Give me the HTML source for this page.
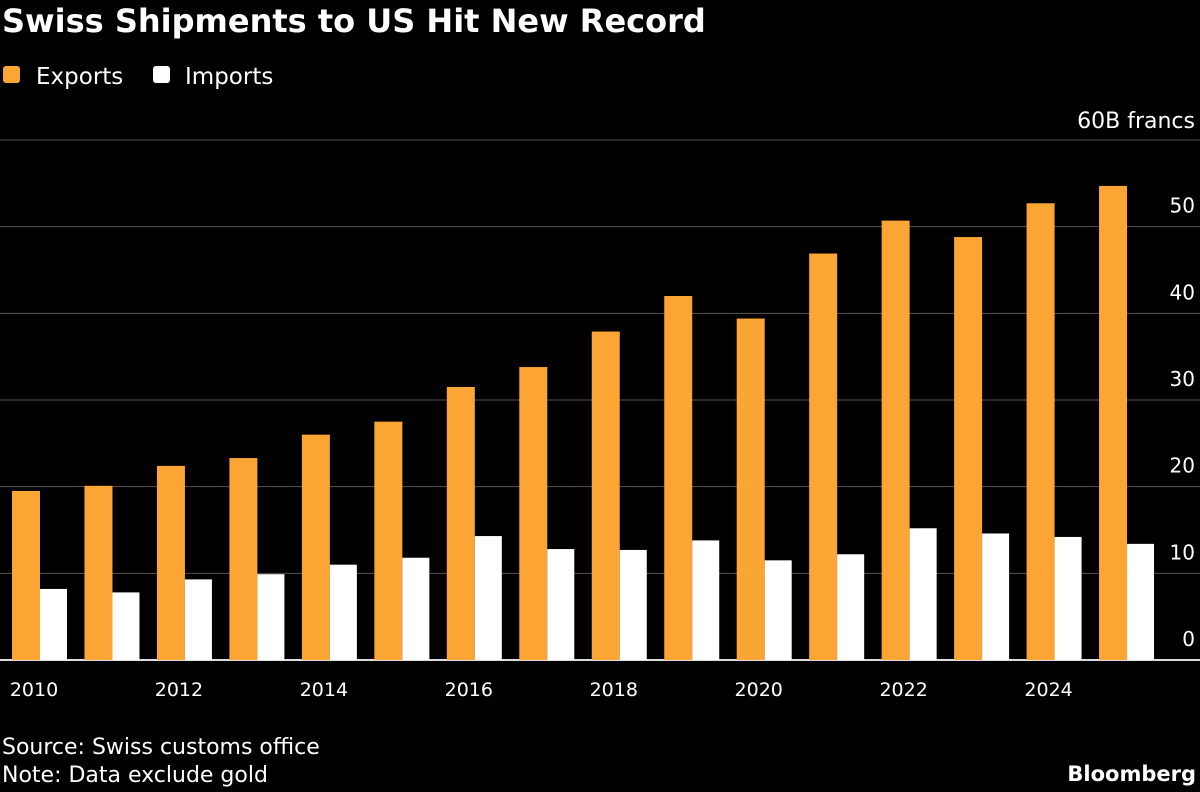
<!DOCTYPE html>
<html><head><meta charset="utf-8"><style>
body{margin:0;background:#000;width:1200px;height:788px;overflow:hidden;font-family:"DejaVu Sans","Liberation Sans",sans-serif;color:#fff}
</style></head><body>
<svg width="1200" height="788" xmlns="http://www.w3.org/2000/svg" font-family="DejaVu Sans, Liberation Sans, sans-serif">
<text x="2" y="32" font-size="32" font-weight="bold" fill="#fff">Swiss Shipments to US Hit New Record</text>
<g><rect x="3" y="66" width="17" height="17" rx="3" fill="#fba535"/><text x="36" y="84" font-size="23" fill="#fff">Exports</text></g>
<g><rect x="153" y="66" width="17" height="17" rx="3" fill="#fff"/><text x="185" y="84" font-size="23" fill="#fff">Imports</text></g>
<g id="grid"></g>
<g id="bars"></g>
<g id="xlabels"></g>
<text x="2" y="754" font-size="22" fill="#fff">Source: Swiss customs office</text>
<text x="2" y="782" font-size="22" fill="#fff">Note: Data exclude gold</text>
<text x="1196" y="781" font-size="21" font-weight="bold" text-anchor="end" fill="#fff">Bloomberg</text>
</svg>
<script>
const years=[2010,2011,2012,2013,2014,2015,2016,2017,2018,2019,2020,2021,2022,2023,2024,2025];
const exportsVals=[19.5,20.1,22.4,23.3,26.0,27.5,31.5,33.8,37.9,42.0,39.4,46.9,50.7,48.8,52.7,54.7];
const importsVals=[8.2,7.8,9.3,9.9,11.0,11.8,14.3,12.8,12.7,13.8,11.5,12.2,15.2,14.6,14.2,13.4];
const yTicks=[0,10,20,30,40,50,60];
const NS="http://www.w3.org/2000/svg";
const y=v=>660-v*(520/60);
const x0=i=>12+i*72.47;
function mk(tag,attrs,parent){const e=document.createElementNS(NS,tag);for(const k in attrs)e.setAttribute(k,attrs[k]);parent.appendChild(e);return e;}
const grid=document.getElementById('grid'),bars=document.getElementById('bars'),xl=document.getElementById('xlabels');
yTicks.forEach(t=>{
  const l=mk('line',{x1:0,x2:1200,y1:y(t),y2:y(t),stroke:t===0?'#ddd':'#555','stroke-width':t===0?2:1},grid);
  
  
  const tx=mk('text',{x:1195,y:t===60?y(t)-12:y(t)-14,'font-size':t===60?22:20,fill:'#fff','text-anchor':'end'},grid);
  tx.textContent=t===60?'60B francs':String(t);
  
  
});
years.forEach((yr,i)=>{
  const e=mk('rect',{x:x0(i),y:y(exportsVals[i]),width:28,height:660-y(exportsVals[i]),fill:'#fba535'},bars);
  
  
  const m=mk('rect',{x:x0(i)+28,y:y(importsVals[i]),width:27,height:660-y(importsVals[i]),fill:'#fff'},bars);
  
  
  if(i%2===0){
    const t=mk('text',{x:x0(i)+22,y:696,'font-size':19,fill:'#fff','text-anchor':'middle'},xl);
    t.textContent=yr;
    
    
  }
});
</script>
</body></html>
